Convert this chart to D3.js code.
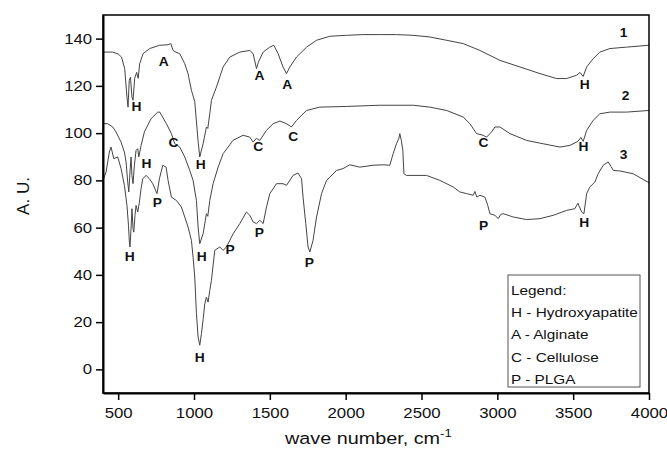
<!DOCTYPE html>
<html lang="en">
<head>
<meta charset="UTF-8">
<title>FTIR spectra</title>
<script src="https://d3js.org/d3.v7.min.js"></script>
<style>
body { margin: 0; background: #fff; }
svg { display: block; font-family: Arial, "Liberation Sans", sans-serif; }
.curve { fill: none; stroke: #444; stroke-width: 1; }
.tag { font-weight: bold; font-size: 12px; fill: #111; }
</style>
</head>
<body>
<div id="chart"></div>
<script>
// tick values
const xTicks = [500, 1000, 1500, 2000, 2500, 3000, 3500, 4000];
const xMinorTicks = [750, 1250, 1750, 2250, 2750, 3250, 3750];
const yTicks = [0, 20, 40, 60, 80, 100, 120, 140];
const yMinorTicks = [-10, 10, 30, 50, 70, 90, 110, 130, 150];

// spectra: [wave number, A.U.]
const spectrum1 = [
  [400,134.3],[464,134.3],[500,133.5],[522,132.2],[543,127.3],[558,115.3],[565,111.0],[573,122.3],
  [581,123.7],[591,115.3],[598,113.9],[609,123.2],[622,125.7],[632,123.2],[642,129.4],[664,133.6],
  [708,135.8],[774,137.2],[829,137.4],[847,137.9],[862,135.0],[880,134.3],[906,133.6],[939,129.4],
  [961,125.1],[983,118.1],[1005,113.4],[1027,96.5],[1038,89.9],[1060,95.5],[1082,102.6],[1091,102.0],
  [1104,108.2],[1115,113.9],[1148,119.5],[1192,128.0],[1236,132.2],[1302,134.3],[1368,135.0],[1390,133.6],
  [1412,127.3],[1424,130.0],[1456,134.3],[1500,136.4],[1526,137.2],[1555,133.6],[1587,128.0],[1610,125.2],
  [1632,128.0],[1676,132.2],[1742,136.4],[1808,139.3],[1896,141.0],[2006,141.4],[2113,141.7],[2225,141.7],
  [2335,141.7],[2445,141.4],[2555,140.7],[2665,139.3],[2775,137.9],[2885,135.0],[3017,130.8],[3149,128.0],
  [3281,125.2],[3391,123.1],[3457,123.1],[3523,124.5],[3545,125.7],[3566,124.0],[3589,128.0],[3632,131.5],
  [3676,134.3],[3742,135.8],[3852,136.4],[4000,137.2]
];
const spectrum2 = [
  [400,104.0],[431,104.0],[464,102.6],[486,100.5],[519,96.2],[541,92.0],[552,87.8],[563,79.3],
  [570,75.1],[578,83.5],[585,89.9],[591,82.1],[598,78.6],[607,86.4],[618,92.7],[629,93.4],
  [636,89.9],[651,94.8],[673,100.5],[717,106.1],[761,108.9],[774,108.9],[818,104.0],[851,99.8],
  [873,95.5],[906,94.1],[939,89.9],[972,84.2],[994,80.0],[1016,71.5],[1027,60.2],[1038,53.2],
  [1060,57.4],[1082,65.9],[1091,64.8],[1104,71.5],[1126,78.6],[1159,85.6],[1192,91.3],[1225,94.1],
  [1256,96.9],[1324,99.1],[1368,98.3],[1390,96.2],[1411,97.8],[1434,96.9],[1478,101.2],[1522,104.0],
  [1566,105.1],[1610,104.0],[1643,102.6],[1676,105.4],[1742,109.6],[1829,111.0],[2006,111.3],[2225,111.8],
  [2445,111.8],[2555,111.0],[2665,109.6],[2775,106.8],[2819,104.0],[2863,99.8],[2907,99.1],[2929,98.3],
  [2962,100.5],[2984,102.6],[3017,102.6],[3083,99.8],[3193,96.9],[3302,95.5],[3413,94.1],[3478,94.8],
  [3531,96.5],[3551,98.2],[3566,96.5],[3589,101.2],[3632,105.4],[3676,108.2],[3742,108.9],[3852,108.9],
  [4000,109.6]
];
const spectrum3 = [
  [400,80.0],[420,83.5],[442,92.0],[453,94.1],[471,89.2],[497,89.9],[519,85.0],[541,77.9],
  [558,69.4],[568,61.0],[574,53.9],[578,51.8],[585,59.6],[591,68.0],[598,59.6],[603,58.1],
  [611,65.2],[618,69.4],[629,66.6],[640,70.8],[651,76.5],[662,80.7],[684,82.1],[706,80.7],
  [728,78.6],[756,74.4],[772,80.7],[794,86.4],[816,85.6],[829,80.0],[851,72.9],[884,71.5],
  [917,68.7],[939,64.5],[961,60.2],[983,54.6],[994,47.5],[1005,39.1],[1016,23.6],[1027,13.7],
  [1038,10.2],[1049,15.1],[1061,21.6],[1071,27.8],[1082,30.6],[1093,28.5],[1104,33.4],[1115,37.7],
  [1137,50.4],[1170,51.8],[1192,50.4],[1214,51.8],[1258,57.4],[1302,61.7],[1346,66.6],[1368,65.2],
  [1390,62.4],[1412,61.7],[1434,63.1],[1456,61.7],[1478,68.7],[1500,74.4],[1544,78.6],[1587,78.6],
  [1610,77.9],[1653,82.1],[1686,83.1],[1709,80.7],[1719,72.9],[1737,61.7],[1752,51.8],[1764,49.7],
  [1785,54.6],[1808,64.5],[1841,74.4],[1874,80.0],[1940,84.2],[1983,85.0],[2027,86.6],[2093,85.6],
  [2181,86.4],[2247,86.6],[2291,86.4],[2313,91.3],[2335,95.5],[2351,97.8],[2357,99.8],[2367,96.9],
  [2377,92.7],[2384,82.8],[2401,82.1],[2533,82.1],[2621,80.0],[2709,77.2],[2753,75.1],[2797,74.4],
  [2841,73.7],[2852,75.3],[2865,72.9],[2885,73.7],[2918,72.9],[2937,69.4],[2951,65.9],[2984,65.2],
  [3006,63.8],[3023,65.6],[3039,65.9],[3105,64.5],[3193,63.4],[3281,63.8],[3368,65.2],[3457,67.3],
  [3511,68.0],[3531,70.3],[3556,66.6],[3571,65.9],[3589,74.4],[3610,77.2],[3643,79.3],[3665,82.8],
  [3698,86.4],[3731,87.8],[3749,85.9],[3765,84.2],[3808,84.0],[3896,82.8],[4000,79.0]
];

// peak letters: [letter, wave number, A.U.]
const tags1 = [["H",620,111],["A",801,130.3],["H",1045,86.4],["A",1431,124.1],["A",1615,120.6],["H",3577,120.6]];
const tags2 = [["H",686,86.8],["C",864,95.7],["H",1051,47.6],["C",1424,94.4],["C",1655,98.5],["C",2908,95.7],["H",3568,94.4]];
const tags3 = [["H",576,47.8],["P",758,70.3],["H",1038,5.1],["P",1238,50.6],["P",1431,57.6],["P",1761,44.9],["P",2909,60.6],["H",3573,62.1]];
const curveNames = [["1",3832,142.4],["2",3846,115.8],["3",3832,90.8]];
const legendLines = ["Legend:", "H - Hydroxyapatite", "A - Alginate", "C - Cellulose", "P - PLGA"];

const width = 667, height = 455;
const plotLeft = 103, plotRight = 649, plotTop = 15, plotBottom = 393;
const sx = 1.2; // the source figure is a bit stretched horizontally

const svg = d3.select("#chart").append("svg")
    .attr("width", width)
    .attr("height", height);

const x = d3.scaleLinear().domain([400, 4000]).range([plotLeft, plotRight]);
const y = d3.scaleLinear().domain([-10, 150]).range([plotBottom, plotTop]);

svg.append("clipPath").attr("id", "plot")
  .append("rect")
    .attr("x", plotLeft).attr("y", plotTop)
    .attr("width", plotRight - plotLeft).attr("height", plotBottom - plotTop);

const line = d3.line().x(d => x(d[0])).y(d => y(d[1]));

[spectrum1, spectrum2, spectrum3].forEach(s => {
    svg.append("path")
        .attr("class", "curve")
        .attr("clip-path", "url(#plot)")
        .attr("d", line(s));
});

// frame
svg.append("rect")
    .attr("x", plotLeft).attr("y", plotTop)
    .attr("width", plotRight - plotLeft).attr("height", plotBottom - plotTop)
    .attr("fill", "none").attr("stroke", "#000").attr("stroke-width", 1.5);

// x axis
const gx = svg.append("g").attr("transform", `translate(0,${plotBottom})`);
gx.call(d3.axisBottom(x).tickValues(xMinorTicks).tickSize(4).tickFormat(""));
gx.call(d3.axisBottom(x).tickValues(xTicks).tickSize(7).tickPadding(8).tickSizeOuter(0).tickFormat(d3.format("d")));
gx.selectAll("text").attr("font-size", 14).attr("fill", "#111")
    .attr("font-family", "Arial, 'Liberation Sans', sans-serif")
    .attr("transform", `scale(${sx},1)`);

// y axis
const gy = svg.append("g").attr("transform", `translate(${plotLeft},0)`);
gy.call(d3.axisLeft(y).tickValues(yMinorTicks).tickSize(4).tickFormat(""));
gy.call(d3.axisLeft(y).tickValues(yTicks).tickSize(7).tickPadding(2).tickSizeOuter(0).tickFormat(d3.format("d")));
gy.selectAll("text").attr("font-size", 14).attr("fill", "#111")
    .attr("font-family", "Arial, 'Liberation Sans', sans-serif")
    .attr("transform", `scale(${sx},1)`);

svg.selectAll(".domain").attr("stroke-width", 2);
svg.selectAll(".tick line").attr("stroke-width", 1.5);

// axis titles
const xt = svg.append("text")
    .attr("transform", `translate(285,444) scale(1.2,1)`)
    .attr("font-size", 16.5).attr("fill", "#111");
xt.append("tspan").text("wave number, cm");
xt.append("tspan").attr("dy", -7).attr("font-size", 11).text("-1");

svg.append("text")
    .attr("transform", "translate(29,196) rotate(-90)")
    .attr("text-anchor", "middle")
    .attr("font-size", 17).attr("fill", "#111")
    .text("A. U.");

// peak letters
function tag(list, size) {
    list.forEach(t => {
        svg.append("text")
            .attr("class", "tag")
            .attr("font-size", size)
            .attr("text-anchor", "middle")
            .attr("dominant-baseline", "central")
            .attr("transform", `translate(${x(t[1])},${y(t[2])}) scale(1.15,1)`)
            .text(t[0]);
    });
}
tag(tags1, 12);
tag(tags2, 12);
tag(tags3, 12);
tag(curveNames, 15);

// legend box
const lg = svg.append("g");
lg.append("rect")
    .attr("x", 508).attr("y", 275)
    .attr("width", 132).attr("height", 112)
    .attr("fill", "#fff").attr("stroke", "#555").attr("stroke-width", 1);
legendLines.forEach((t, i) => {
    lg.append("text")
        .attr("transform", `translate(511,${295 + i * 22.2}) scale(1.18,1)`)
        .attr("font-size", 13).attr("fill", "#111")
        .text(t);
});
</script>
</body>
</html>
